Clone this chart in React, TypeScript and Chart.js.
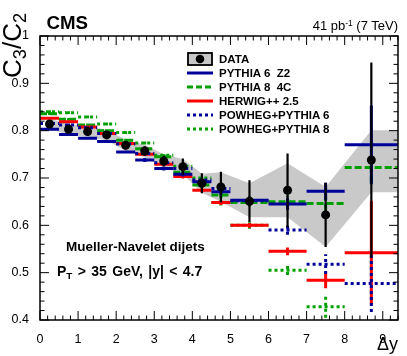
import React, { useEffect, useRef } from 'react';
import { Chart, registerables } from 'chart.js';

Chart.register(...registerables);

// ---- data ----
const binEdges = [0, 0.5, 1, 1.5, 2, 2.5, 3, 3.5, 4, 4.5, 5, 6, 7, 8, 9.4];
const binCenters = [0.25, 0.75, 1.25, 1.75, 2.25, 2.75, 3.25, 3.75, 4.25, 4.75, 5.5, 6.5, 7.5, 8.7];

const dataValues = [0.814, 0.803, 0.798, 0.791, 0.769, 0.757, 0.736, 0.724, 0.689, 0.681, 0.651, 0.674, 0.622, 0.738];
const dataErrors = [0.008, 0.008, 0.008, 0.008, 0.009, 0.01, 0.011, 0.017, 0.021, 0.032, 0.044, 0.078, 0.068, 0.206];

const bandX = [0.25, 0.75, 1.25, 1.75, 2.25, 2.75, 3.25, 3.75, 4.25, 4.75, 5.5, 6.5, 7.5, 8.7, 9.4];
const bandUpper = [0.825, 0.814, 0.809, 0.802, 0.781, 0.77, 0.75, 0.74, 0.709, 0.712, 0.689, 0.731, 0.681, 0.801, 0.801];
const bandLower = [0.803, 0.792, 0.787, 0.78, 0.757, 0.744, 0.722, 0.708, 0.669, 0.65, 0.617, 0.617, 0.554, 0.67, 0.67];

const pythia6 = [0.803, 0.792, 0.784, 0.777, 0.755, 0.738, 0.72, 0.708, 0.692, 0.671, 0.653, 0.645, 0.672, 0.77];
const pythia6Err = [0.003, 0.003, 0.003, 0.003, 0.003, 0.004, 0.004, 0.005, 0.006, 0.007, 0.008, 0.012, 0.018, 0.083];
const pythia8 = [0.836, 0.824, 0.812, 0.8, 0.78, 0.762, 0.745, 0.712, 0.685, 0.664, 0.648, 0.65, 0.646, 0.722];
const pythia8Err = [0.003, 0.003, 0.003, 0.003, 0.003, 0.004, 0.004, 0.005, 0.006, 0.007, 0.008, 0.012, 0.015, 0.032];
const herwig = [0.826, 0.819, 0.808, 0.794, 0.773, 0.75, 0.729, 0.703, 0.674, 0.648, 0.6, 0.545, 0.484, 0.542];
const herwigErr = [0.003, 0.003, 0.003, 0.003, 0.003, 0.003, 0.004, 0.004, 0.004, 0.005, 0.005, 0.008, 0.017, 0.11];
const powheg6 = [0.815, 0.812, 0.806, 0.794, 0.772, 0.752, 0.732, 0.72, 0.696, 0.678, 0.652, 0.59, 0.518, 0.477];
const powheg6Err = [0.003, 0.003, 0.003, 0.003, 0.003, 0.003, 0.004, 0.004, 0.005, 0.006, 0.007, 0.01, 0.021, 0.06];
const powheg8 = [0.84, 0.838, 0.829, 0.814, 0.796, 0.774, 0.748, 0.725, 0.7, 0.648, 0.6, 0.505, 0.428, null];
const powheg8Err = [0.003, 0.003, 0.003, 0.003, 0.003, 0.003, 0.004, 0.004, 0.005, 0.006, 0.007, 0.01, 0.023, 0];

const xTickLabels = [0, 1, 2, 3, 4, 5, 6, 7, 8, 9];
const yTickLabels = [0.4, 0.5, 0.6, 0.7, 0.8, 0.9, 1];

const BLUE = '#000099';
const GREEN = '#00a000';
const RED = '#ff0000';
const BAND = '#c9c9c9';
const FONT = '"Liberation Sans", Arial, Helvetica, sans-serif';

type Pt = { x: number; y: number | null };

function stepSegments(vals: (number | null)[], errs: number[]): Pt[] {
  const pts: Pt[] = [];
  vals.forEach((v, i) => {
    if (v == null) return;
    pts.push({ x: binEdges[i], y: v }, { x: binEdges[i + 1], y: v }, { x: binEdges[i + 1], y: null });
    const e = errs[i];
    if (e > 0) {
      pts.push({ x: binCenters[i], y: v - e }, { x: binCenters[i], y: v + e }, { x: binCenters[i], y: null });
    }
  });
  return pts;
}

function errorSegments(): Pt[] {
  const pts: Pt[] = [];
  dataValues.forEach((v, i) => {
    pts.push({ x: binCenters[i], y: v - dataErrors[i] }, { x: binCenters[i], y: v + dataErrors[i] }, { x: binCenters[i], y: null });
  });
  return pts;
}

const frameTicks = {
  id: 'frameTicks',
  afterDatasetsDraw(chart: any) {
    const { ctx, chartArea, scales } = chart;
    const { left, right, top, bottom } = chartArea;
    const x = scales.x;
    const y = scales.y;
    ctx.save();
    ctx.strokeStyle = '#000';
    ctx.lineWidth = 1;
    ctx.beginPath();
    for (let i = 0; i <= 47; i++) {
      const v = i * 0.2;
      if (v > 9.4 + 1e-9) break;
      const px = x.getPixelForValue(v);
      const L = i % 5 === 0 ? 9 : 4.5;
      ctx.moveTo(px, bottom);
      ctx.lineTo(px, bottom - L);
      ctx.moveTo(px, top);
      ctx.lineTo(px, top + L);
    }
    for (let i = 0; i <= 30; i++) {
      const v = 0.4 + i * 0.02;
      const py = y.getPixelForValue(v);
      const L = i % 5 === 0 ? 9 : 4.5;
      ctx.moveTo(left, py);
      ctx.lineTo(left + L, py);
      ctx.moveTo(right, py);
      ctx.lineTo(right - L, py);
    }
    ctx.stroke();
    ctx.lineWidth = 1.5;
    ctx.strokeRect(left, top, right - left, bottom - top);
    ctx.restore();
  },
};

function LegendSymbol({ kind, color }: { kind: string; color?: string }) {
  if (kind === 'data') {
    return (
      <svg width={26} height={14} style={{ display: 'block' }}>
        <rect x={1} y={1} width={24} height={12} fill={BAND} stroke="#000" strokeWidth={1.8} />
        <circle cx={13} cy={7} r={4.3} fill="#000" />
      </svg>
    );
  }
  const dash = kind === 'dashed' ? '6,3' : kind === 'dotted' ? '3,3' : undefined;
  return (
    <svg width={26} height={14} style={{ display: 'block' }}>
      <line x1={0} y1={7} x2={26} y2={7} stroke={color} strokeWidth={3} strokeDasharray={dash} />
    </svg>
  );
}

const legendEntries = [
  { label: 'DATA', kind: 'data', color: '#000' },
  { label: 'PYTHIA 6  Z2', kind: 'solid', color: BLUE },
  { label: 'PYTHIA 8  4C', kind: 'dashed', color: GREEN },
  { label: 'HERWIG++ 2.5', kind: 'solid', color: RED },
  { label: 'POWHEG+PYTHIA 6', kind: 'dotted', color: BLUE },
  { label: 'POWHEG+PYTHIA 8', kind: 'dotted', color: GREEN },
];

export default function App() {
  const canvasRef = useRef<HTMLCanvasElement | null>(null);

  useEffect(() => {
    const canvas = canvasRef.current;
    if (!canvas) return;
    const mc = (label: string, vals: (number | null)[], errs: number[], color: string, dash: number[]) => ({
      type: 'line' as const,
      label,
      data: stepSegments(vals, errs),
      borderColor: color,
      borderWidth: 3,
      borderDash: dash,
      borderCapStyle: 'butt' as const,
      pointRadius: 0,
      fill: false,
      spanGaps: false,
      tension: 0,
    });
    const chart = new Chart(canvas, {
      type: 'line',
      data: {
        datasets: [
          {
            type: 'scatter',
            label: 'DATA',
            data: binCenters.map((x, i) => ({ x, y: dataValues[i] })),
            pointRadius: 4.5,
            pointBackgroundColor: '#000',
            pointBorderWidth: 0,
            showLine: false,
          } as any,
          {
            type: 'line',
            label: 'data errors',
            data: errorSegments(),
            borderColor: '#000',
            borderWidth: 2.2,
            pointRadius: 0,
            fill: false,
            spanGaps: false,
          },
          mc('PYTHIA 6 Z2', pythia6, pythia6Err, BLUE, []),
          mc('POWHEG+PYTHIA 6', powheg6, powheg6Err, BLUE, [3, 3]),
          mc('HERWIG++ 2.5', herwig, herwigErr, RED, []),
          mc('PYTHIA 8 4C', pythia8, pythia8Err, GREEN, [7, 3]),
          mc('POWHEG+PYTHIA 8', powheg8, powheg8Err, GREEN, [3, 3]),
          {
            type: 'line',
            label: 'sys low',
            data: bandX.map((x, i) => ({ x, y: bandLower[i] })),
            borderWidth: 0,
            borderColor: 'rgba(0,0,0,0)',
            pointRadius: 0,
            fill: false,
            tension: 0,
          },
          {
            type: 'line',
            label: 'sys high',
            data: bandX.map((x, i) => ({ x, y: bandUpper[i] })),
            borderWidth: 0,
            borderColor: 'rgba(0,0,0,0)',
            backgroundColor: BAND,
            pointRadius: 0,
            fill: '-1',
            tension: 0,
          },
        ],
      },
      options: {
        responsive: false,
        animation: false,
        devicePixelRatio: 1,
        layout: { padding: { top: 36, right: 9, left: 0, bottom: 0 } },
        plugins: {
          legend: { display: false },
          tooltip: { enabled: false },
          title: { display: false },
        },
        scales: {
          x: {
            type: 'linear',
            min: 0,
            max: 9.4,
            afterFit: (s: any) => {
              s.height = 36;
            },
            afterBuildTicks: (s: any) => {
              s.ticks = xTickLabels.map((v) => ({ value: v }));
            },
            ticks: {
              padding: 4,
              maxRotation: 0,
              autoSkip: false,
              color: '#000',
              font: { family: FONT, size: 12.5 },
              callback: (v: any) => String(v),
            },
            grid: { display: false },
            border: { display: false },
          },
          y: {
            type: 'linear',
            min: 0.4,
            max: 1,
            afterFit: (s: any) => {
              s.width = 40;
            },
            afterBuildTicks: (s: any) => {
              s.ticks = yTickLabels.map((v) => ({ value: v }));
            },
            ticks: {
              padding: 3,
              autoSkip: false,
              color: '#000',
              font: { family: FONT, size: 12.5 },
              callback: (v: any) => (Math.abs(v - 1) < 1e-9 ? '1' : Number(v).toFixed(1)),
            },
            grid: { display: false },
            border: { display: false },
          },
        },
      },
      plugins: [frameTicks],
    });
    return () => chart.destroy();
  }, []);

  const abs = (s: React.CSSProperties): React.CSSProperties => ({ position: 'absolute', whiteSpace: 'pre', ...s });

  return (
    <div style={{ position: 'fixed', left: 0, top: 0, width: 407, height: 356, background: '#fff', fontFamily: FONT, color: '#000', overflow: 'hidden' }}>
      <canvas ref={canvasRef} width={407} height={356} style={{ position: 'absolute', left: 0, top: 0, width: 407, height: 356 }} />
      <div style={abs({ left: 46.5, top: 14, fontSize: 18.7, lineHeight: '18.7px', fontWeight: 'bold' })}>CMS</div>
      <div style={abs({ right: 9, top: 17, fontSize: 13, lineHeight: '13px' })}>
        41 pb<span style={{ fontSize: '65%', verticalAlign: '0.5em' }}>-1</span> (7 TeV)
      </div>
      <div
        style={abs({
          left: 0,
          top: 0,
          fontSize: 26,
          lineHeight: '26px',
          transformOrigin: 'left top',
          transform: 'translate(-1px, 78px) rotate(-90deg)',
        })}
      >
        C<span style={{ fontSize: '70%', verticalAlign: '-0.3em' }}>3</span>/C
        <span style={{ fontSize: '70%', verticalAlign: '-0.3em' }}>2</span>
      </div>
      <div style={abs({ right: 9, top: 335, fontSize: 18, lineHeight: '18px' })}>Δy</div>
      {legendEntries.map((e, i) => (
        <div key={e.label} style={abs({ left: 187, top: 52.2 + i * 14, height: 14, display: 'flex', alignItems: 'center' })}>
          <LegendSymbol kind={e.kind} color={e.color} />
          <span style={{ marginLeft: 6, fontSize: 11.5, fontWeight: 'bold', lineHeight: '14px' }}>{e.label}</span>
        </div>
      ))}
      <div style={abs({ left: 66, top: 240, fontSize: 13.5, lineHeight: '13.5px', fontWeight: 'bold' })}>Mueller-Navelet dijets</div>
      <div style={abs({ left: 57, top: 264, fontSize: 14, lineHeight: '14px', fontWeight: 'bold', wordSpacing: '1.5px' })}>
        P<span style={{ fontSize: '70%', verticalAlign: '-0.3em' }}>T</span> &gt; 35 GeV, |y| &lt; 4.7
      </div>
    </div>
  );
}
